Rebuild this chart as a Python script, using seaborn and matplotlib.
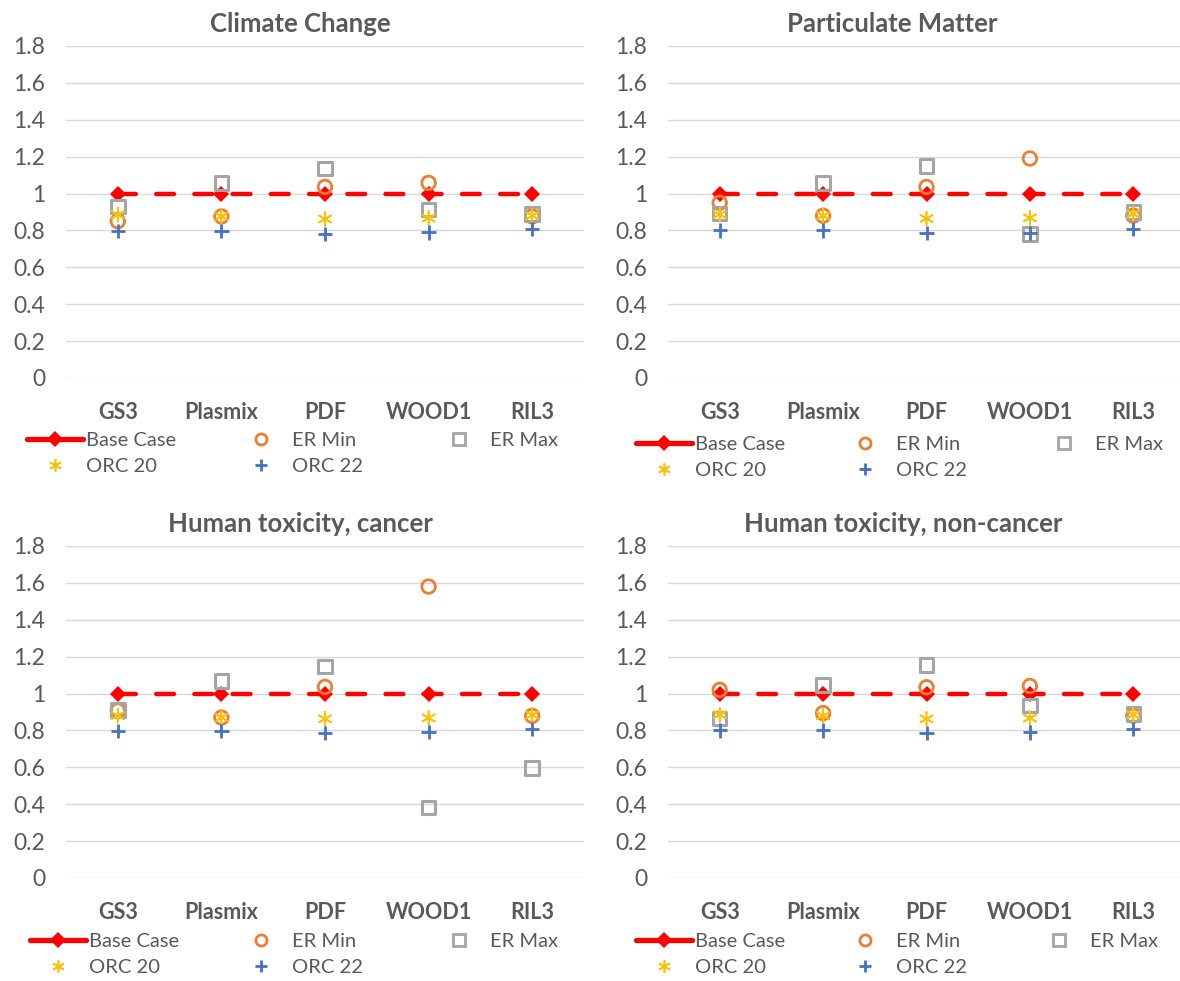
import matplotlib
matplotlib.use("Agg")
import matplotlib.pyplot as plt
from matplotlib.lines import Line2D
import pandas as pd
import seaborn as sns

# ---- data -------------------------------------------------------------
categories = ["GS3", "Plasmix", "PDF", "WOOD1", "RIL3"]
panel_titles = ["Climate Change", "Particulate Matter",
                "Human toxicity, cancer", "Human toxicity, non-cancer"]
series_names = ["Base Case", "ER Min", "ER Max", "ORC 20", "ORC 22"]
y_ticks = [0, 0.2, 0.4, 0.6, 0.8, 1.0, 1.2, 1.4, 1.6, 1.8]
y_tick_labels = ["0", "0.2", "0.4", "0.6", "0.8", "1", "1.2", "1.4", "1.6", "1.8"]

# Climate Change
cc_base = [1.0, 1.0, 1.0, 1.0, 1.0]
cc_er_min = [0.85, 0.876, 1.036, 1.058, 0.876]
cc_er_max = [0.93, 1.058, 1.136, 0.913, 0.889]
cc_orc20 = [0.885, 0.876, 0.862, 0.867, 0.88]
cc_orc22 = [0.795, 0.798, 0.782, 0.789, 0.807]

# Particulate Matter
pm_base = [1.0, 1.0, 1.0, 1.0, 1.0]
pm_er_min = [0.95, 0.88, 1.036, 1.19, 0.88]
pm_er_max = [0.892, 1.058, 1.148, 0.782, 0.90]
pm_orc20 = [0.887, 0.88, 0.865, 0.868, 0.89]
pm_orc22 = [0.80, 0.80, 0.786, 0.787, 0.807]

# Human toxicity, cancer
htc_base = [1.0, 1.0, 1.0, 1.0, 1.0]
htc_er_min = [0.908, 0.87, 1.036, 1.58, 0.879]
htc_er_max = [0.912, 1.068, 1.146, 0.382, 0.595]
htc_orc20 = [0.88, 0.87, 0.863, 0.868, 0.884]
htc_orc22 = [0.795, 0.795, 0.785, 0.79, 0.807]

# Human toxicity, non-cancer
htn_base = [1.0, 1.0, 1.0, 1.0, 1.0]
htn_er_min = [1.02, 0.894, 1.034, 1.041, 0.88]
htn_er_max = [0.865, 1.047, 1.155, 0.935, 0.89]
htn_orc20 = [0.885, 0.88, 0.863, 0.867, 0.885]
htn_orc22 = [0.80, 0.80, 0.786, 0.789, 0.809]

panels = [
    (cc_base, cc_er_min, cc_er_max, cc_orc20, cc_orc22),
    (pm_base, pm_er_min, pm_er_max, pm_orc20, pm_orc22),
    (htc_base, htc_er_min, htc_er_max, htc_orc20, htc_orc22),
    (htn_base, htn_er_min, htn_er_max, htn_orc20, htn_orc22),
]

# ---- style ------------------------------------------------------------
RED = "#FF0000"
ORANGE = "#ED7D31"
GRAY = "#A5A5A5"
GOLD = "#FFC000"
BLUE = "#4472C4"
TEXT = "#595959"
GRID = "#D9D9D9"
ASTERISK = (6, 2, 0)

sns.set_theme(style="white")
plt.rcParams["font.family"] = ["Lato", "DejaVu Sans"]

W, H = 1180, 981
fig = plt.figure(figsize=(W / 100, H / 100), dpi=100)


def px_axes(left, top, right, bottom):
    return fig.add_axes([left / W, 1 - bottom / H, (right - left) / W, (bottom - top) / H])


axes_boxes = [(66, 46, 584, 378), (668, 46, 1185, 378),
              (66, 546, 584, 878), (668, 546, 1185, 878)]
title_pos = [(300, 24), (892, 24), (300, 524), (903, 524)]
legend_rows = [443, 447, 944, 944]
legend_cols = [(27, 233, 431), (636, 837, 1036), (30, 233, 431), (636, 837, 1031)]

scatter_specs = [
    ("ER Min", "o", ORANGE, 95, 2.0),
    ("ER Max", "s", GRAY, 95, 2.2),
    ("ORC 20", ASTERISK, GOLD, 100, 1.2),
    ("ORC 22", "+", BLUE, 105, 2.0),
]

for i, (box, vals) in enumerate(zip(axes_boxes, panels)):
    ax = px_axes(*box)
    df = pd.DataFrame({"category": categories})
    for name, v in zip(series_names, vals):
        df[name] = v

    sns.lineplot(data=df, x="category", y="Base Case", ax=ax, color=RED,
                 lw=3.2, marker="D", markersize=8, markeredgecolor=RED,
                 markeredgewidth=0, errorbar=None, sort=False, zorder=2)
    base_line = ax.lines[-1]
    base_line.set_dashes((4.0, 4.6))
    base_line.set_dash_capstyle("round")

    for name, marker, color, size, lw in scatter_specs:
        sns.scatterplot(data=df, x="category", y=name, ax=ax, marker=marker,
                        s=size, color=color, zorder=3)
        coll = ax.collections[-1]
        coll.set_facecolor("none")
        coll.set_edgecolor(color)
        coll.set_linewidth(lw)

    ax.set_xlim(-0.5, 4.5)
    ax.set_ylim(0, 1.8)
    ax.set_yticks(y_ticks)
    ax.set_yticklabels(y_tick_labels)
    ax.set_xlabel("")
    ax.set_ylabel("")
    ax.yaxis.grid(True, color=GRID, lw=1.0)
    ax.xaxis.grid(False)
    ax.set_axisbelow(True)
    for sp in ax.spines.values():
        sp.set_visible(False)
    ax.tick_params(axis="y", length=0, pad=15, labelsize=16.5, labelcolor=TEXT)
    ax.tick_params(axis="x", length=0, pad=17, labelsize=15.5, labelcolor=TEXT)
    for lbl in ax.get_xticklabels():
        lbl.set_fontweight("bold")

    tx, ty = title_pos[i]
    fig.text(tx / W, 1 - ty / H, panel_titles[i], ha="center", va="center",
             fontsize=18.5, fontweight="bold", color=TEXT)

    # legend, laid out as three columns
    h_base = Line2D([], [], color=RED, lw=3.8, solid_capstyle="round",
                    marker="D", markersize=8.5, markeredgewidth=0)
    h_min = Line2D([], [], ls="none", marker="o", mfc="none", mec=ORANGE, mew=2, markersize=8)
    h_max = Line2D([], [], ls="none", marker="s", mfc="none", mec=GRAY, mew=2, markersize=8)
    h_o20 = Line2D([], [], ls="none", marker=ASTERISK, color=GOLD, mew=1.2, markersize=9)
    h_o22 = Line2D([], [], ls="none", marker="+", color=BLUE, mew=2, markersize=9)
    columns = [([h_base, h_o20], ["Base Case", "ORC 20"]),
               ([h_min, h_o22], ["ER Min", "ORC 22"]),
               ([h_max], ["ER Max"])]
    row_y = legend_rows[i]
    for (handles, labels), cx in zip(columns, legend_cols[i]):
        fig.legend(handles, labels, loc="upper left",
                   bbox_to_anchor=(cx / W, 1 - (row_y - 11) / H),
                   frameon=False, borderpad=0, borderaxespad=0,
                   handlelength=2.8, handletextpad=0.15, labelspacing=0.42,
                   fontsize=14.5, labelcolor=TEXT)

fig.savefig("out.png", dpi=100)
